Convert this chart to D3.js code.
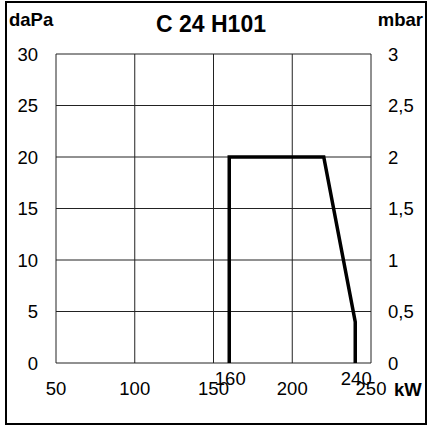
<!DOCTYPE html>
<html>
<head>
<meta charset="utf-8">
<script src="https://cdn.jsdelivr.net/npm/d3@7"></script>
<style>
  body { margin: 0; background: #fff; }
  text { font-family: "Liberation Sans", Arial, Helvetica, sans-serif; fill: #000; }
</style>
</head>
<body>
<div id="chart"></div>
<script>
// chart values
var title = 'C 24 H101';
var kwTicks = [50, 100, 150, 200, 250];
var daPaTicks = [0, 5, 10, 15, 20, 25, 30];
var mbarLabels = ['0', '0,5', '1', '1,5', '2', '2,5', '3'];
var markKw = [160, 240];
var curveKw = [160, 160, 220, 240, 240];
var curveDaPa = [0, 20, 20, 4, 0];

function draw() {
    var width = 430, height = 426;
    var plot = {left: 56, right: 371, top: 54, bottom: 363};

    var svg = d3.select('#chart')
        .append('svg')
        .attr('width', width)
        .attr('height', height);

    var x = d3.scaleLinear().domain([50, 250]).range([plot.left, plot.right]);
    var y = d3.scaleLinear().domain([0, 30]).range([plot.bottom, plot.top]);

    // outer frame
    svg.append('rect')
        .attr('x', 6).attr('y', 2)
        .attr('width', 420).attr('height', 422)
        .attr('fill', 'none')
        .attr('stroke', '#000')
        .attr('stroke-width', 2);

    // grid
    var grid = svg.append('g');
    grid.selectAll('.vline')
        .data(kwTicks)
        .enter()
        .append('line')
        .attr('x1', d => x(d)).attr('x2', d => x(d))
        .attr('y1', plot.top).attr('y2', plot.bottom)
        .attr('stroke', '#222')
        .attr('stroke-width', 1);

    grid.selectAll('.hline')
        .data(daPaTicks)
        .enter()
        .append('line')
        .attr('x1', plot.left).attr('x2', plot.right)
        .attr('y1', d => y(d)).attr('y2', d => y(d))
        .attr('stroke', '#222')
        .attr('stroke-width', 1);

    // left labels (daPa)
    svg.append('g').selectAll('text')
        .data(daPaTicks)
        .enter()
        .append('text')
        .attr('x', 38)
        .attr('y', d => y(d))
        .attr('dy', '0.36em')
        .style('text-anchor', 'end')
        .style('font-size', '18.5px')
        .text(d => d);

    // right labels (mbar)
    svg.append('g').selectAll('text')
        .data(mbarLabels)
        .enter()
        .append('text')
        .attr('x', 388)
        .attr('y', (d, i) => y(daPaTicks[i]))
        .attr('dy', '0.36em')
        .style('font-size', '18.5px')
        .text(d => d);

    // bottom labels (kW)
    svg.append('g').selectAll('text')
        .data(kwTicks)
        .enter()
        .append('text')
        .attr('x', d => x(d))
        .attr('y', 395)
        .style('text-anchor', 'middle')
        .style('font-size', '18.5px')
        .text(d => d);

    svg.append('g').selectAll('text')
        .data(markKw)
        .enter()
        .append('text')
        .attr('x', d => x(d) + 1)
        .attr('y', 385)
        .style('text-anchor', 'middle')
        .style('font-size', '18.5px')
        .text(d => d);

    // units and title
    svg.append('text')
        .attr('x', 9).attr('y', 26)
        .style('font-size', '18.5px')
        .style('font-weight', 700)
        .text('daPa');

    svg.append('text')
        .attr('x', 423).attr('y', 26)
        .style('text-anchor', 'end')
        .style('font-size', '18.5px')
        .style('font-weight', 700)
        .text('mbar');

    svg.append('text')
        .attr('x', 211).attr('y', 32)
        .style('text-anchor', 'middle')
        .style('font-size', '23px')
        .style('font-weight', 700)
        .text(title);

    svg.append('text')
        .attr('x', 394).attr('y', 396)
        .style('font-size', '18.5px')
        .style('font-weight', 700)
        .text('kW');

    // working range curve
    var pts = curveKw.map((k, i) => [k, curveDaPa[i]]);
    var line = d3.line()
        .x(d => x(d[0]))
        .y(d => y(d[1]));

    svg.append('path')
        .datum(pts)
        .attr('d', line)
        .attr('fill', 'none')
        .attr('stroke', '#000')
        .attr('stroke-width', 3.5)
        .attr('stroke-linejoin', 'miter');
}

document.addEventListener('DOMContentLoaded', draw);
</script>
</body>
</html>
